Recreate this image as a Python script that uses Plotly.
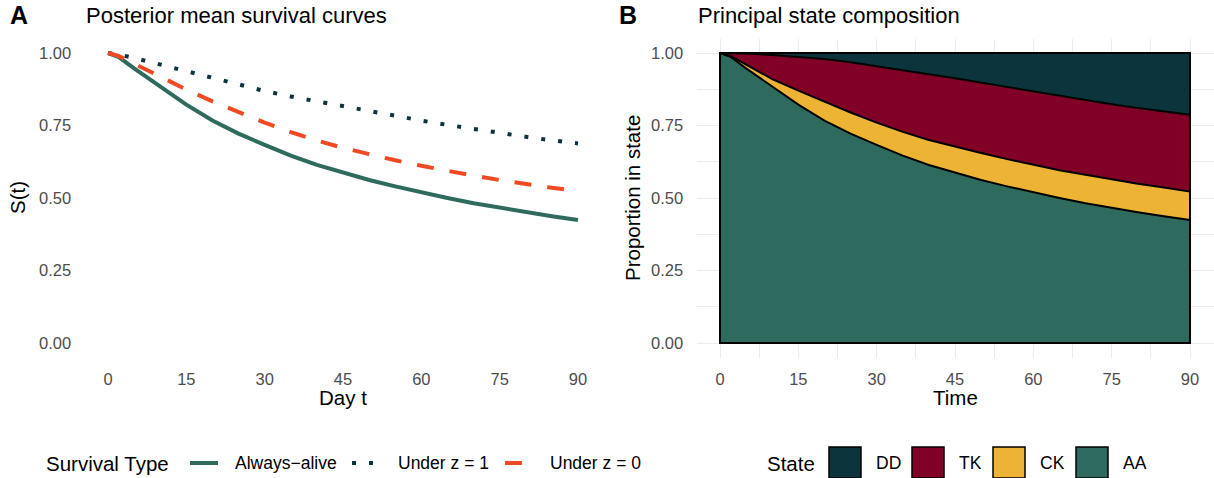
import plotly.graph_objects as go

# ---------------- data ----------------
days = [0, 2, 5, 10, 15, 20, 25, 30, 35, 40, 45, 50, 55, 60, 65, 70, 75, 80, 85, 90]

always_alive = [1.000, 0.987, 0.947, 0.884, 0.822, 0.767, 0.722, 0.683, 0.646, 0.614,
                0.587, 0.562, 0.540, 0.519, 0.500, 0.482, 0.466, 0.451, 0.437, 0.424]
under_z1 = [1.000, 0.995, 0.983, 0.960, 0.936, 0.912, 0.890, 0.869, 0.850, 0.833,
            0.816, 0.798, 0.782, 0.767, 0.752, 0.738, 0.723, 0.711, 0.699, 0.688]
under_z0 = [1.000, 0.990, 0.963, 0.917, 0.874, 0.833, 0.795, 0.760, 0.727, 0.698,
            0.673, 0.651, 0.630, 0.611, 0.593, 0.577, 0.562, 0.548, 0.535, 0.524]

series_names = ["Always\u2212alive", "Under z = 1", "Under z = 0"]

state_names = ["DD", "TK", "CK", "AA"]
prop_AA = [1.000, 0.987, 0.947, 0.884, 0.822, 0.767, 0.722, 0.683, 0.646, 0.614,
           0.587, 0.562, 0.540, 0.519, 0.500, 0.482, 0.466, 0.451, 0.437, 0.424]
prop_CK = [0.000, 0.003, 0.013, 0.026, 0.048, 0.065, 0.073, 0.077, 0.082, 0.086,
           0.090, 0.093, 0.094, 0.095, 0.096, 0.098, 0.098, 0.098, 0.099, 0.098]
prop_TK = [0.000, 0.010, 0.038, 0.083, 0.117, 0.147, 0.173, 0.195, 0.213, 0.227,
           0.236, 0.243, 0.248, 0.253, 0.256, 0.257, 0.259, 0.261, 0.262, 0.265]
prop_DD = [0.000, 0.000, 0.002, 0.007, 0.013, 0.021, 0.032, 0.045, 0.059, 0.073,
           0.087, 0.102, 0.118, 0.133, 0.148, 0.163, 0.177, 0.190, 0.202, 0.213]

x_ticks = [0, 15, 30, 45, 60, 75, 90]
y_ticks = [0.0, 0.25, 0.5, 0.75, 1.0]
y_tick_labels = ["0.00", "0.25", "0.50", "0.75", "1.00"]

# ---------------- styles ----------------
W, H = 1214, 478
FONT = "Liberation Sans, Arial, sans-serif"
TICK_COL = "#4D4D4D"
GRID_COL = "#EBEBEB"
col_alive = "#2E6A5E"
col_z1 = "#0C343D"
col_z0 = "#EF4A24"
state_cols = {"DD": "#0C343D", "TK": "#800026", "CK": "#EDB334", "AA": "#2E6A5E"}
state_props = {"DD": prop_DD, "TK": prop_TK, "CK": prop_CK, "AA": prop_AA}


def px(x):
    return x / W


def py(y):
    return 1 - y / H


fig = go.Figure()

# Panel A lines
line_specs = [
    (always_alive, col_alive, "solid"),
    (under_z1, col_z1, "4px,13px"),
    (under_z0, col_z0, "17px,16px"),
]
for name, (vals, col, dash) in zip(series_names, line_specs):
    fig.add_trace(go.Scatter(x=days, y=vals, mode="lines", name=name,
                             line=dict(color=col, width=4, dash=dash),
                             xaxis="x", yaxis="y", showlegend=False))

# Panel B stacked areas (bottom to top)
for s in ["AA", "CK", "TK", "DD"]:
    fig.add_trace(go.Scatter(x=days, y=state_props[s], mode="lines", name=s,
                             stackgroup="b", fillcolor=state_cols[s],
                             line=dict(color="black", width=2),
                             xaxis="x2", yaxis="y2", showlegend=False))

xr = [-4.5, 94.5]
yr = [-0.05, 1.05]
ydom = [py(357.5), py(38.5)]
tickfont = dict(family=FONT, size=16.5, color=TICK_COL)

common_x = dict(range=xr, tickvals=x_ticks, ticktext=[str(v) for v in x_ticks],
                tickfont=tickfont, zeroline=False, showline=False,
                ticks="outside", ticklen=7, tickcolor="rgba(0,0,0,0)")
common_y = dict(range=yr, tickvals=y_ticks, ticktext=y_tick_labels,
                tickfont=tickfont, zeroline=False, showline=False,
                ticks="outside", ticklen=9, tickcolor="rgba(0,0,0,0)", domain=ydom)

minor_x = [(a + b) / 2 for a, b in zip(x_ticks[:-1], x_ticks[1:])]
minor_y = [(a + b) / 2 for a, b in zip(y_ticks[:-1], y_ticks[1:])]

fig.update_layout(
    width=W, height=H,
    margin=dict(l=0, r=0, t=0, b=0),
    paper_bgcolor="white", plot_bgcolor="white",
    font=dict(family=FONT, color="black"),
    xaxis=dict(domain=[px(84.5), px(601.5)], showgrid=False, **common_x),
    yaxis=dict(showgrid=False, **common_y),
    xaxis2=dict(domain=[px(696.5), px(1213.5)], anchor="y2", showgrid=True,
                gridcolor=GRID_COL, gridwidth=1.4,
                minor=dict(tickvals=minor_x, showgrid=True, gridcolor=GRID_COL, gridwidth=1),
                **common_x),
    yaxis2=dict(anchor="x2", showgrid=True, gridcolor=GRID_COL, gridwidth=1.4,
                minor=dict(tickvals=minor_y, showgrid=True, gridcolor=GRID_COL, gridwidth=1),
                **common_y),
    showlegend=False,
)

# outline of the stacked area
fig.add_shape(type="rect", xref="x2", yref="y2", x0=min(days), x1=max(days), y0=0, y1=1,
              line=dict(color="black", width=2), fillcolor="rgba(0,0,0,0)", layer="above")

ann = []


def text(x, y, s, size, xanchor="left", angle=0, color="black", bold=False):
    ann.append(dict(x=px(x), y=py(y), xref="paper", yref="paper", text=("<b>%s</b>" % s) if bold else s,
                    showarrow=False, xanchor=xanchor, yanchor="middle", textangle=angle,
                    font=dict(family=FONT, size=size, color=color)))


# titles and tags
text(8, 15, "A", 25, bold=True)
text(84, 15, "Posterior mean survival curves", 22)
text(617, 15, "B", 25, bold=True)
text(696, 15, "Principal state composition", 22)

# axis titles
text(343, 397, "Day t", 20.5, xanchor="center")
text(17, 198, "S(t)", 20.5, xanchor="center", angle=-90)
text(955, 397, "Time", 20.5, xanchor="center")
text(632, 198, "Proportion in state", 20.5, xanchor="center", angle=-90)

# legend A
LY = 463
text(44, LY, "Survival Type", 20.5)
keys_a = [(190, 218, 233), (352, 380, 396), (505, 523, 548)]
for name, (vals, col, dash), (k0, k1, tx) in zip(series_names, line_specs, keys_a):
    fig.add_shape(type="line", xref="paper", yref="paper", x0=px(k0), x1=px(k1),
                  y0=py(LY), y1=py(LY), line=dict(color=col, width=4, dash=dash))
    text(tx, LY, name, 17.5)

# legend B
text(765, LY, "State", 20.5)
keys_b = [(829, 874), (912, 957), (993, 1038), (1076, 1121)]
for s, (b0, tx) in zip(state_names, keys_b):
    fig.add_shape(type="rect", xref="paper", yref="paper", x0=px(b0), x1=px(b0 + 32),
                  y0=py(478), y1=py(447), line=dict(color="black", width=1.5),
                  fillcolor=state_cols[s])
    text(tx, LY, s, 17.5)

fig.update_layout(annotations=ann)

fig.write_html("out.html", config={"displayModeBar": False},
               post_script="document.body.style.margin='0';document.body.style.overflow='hidden';")
